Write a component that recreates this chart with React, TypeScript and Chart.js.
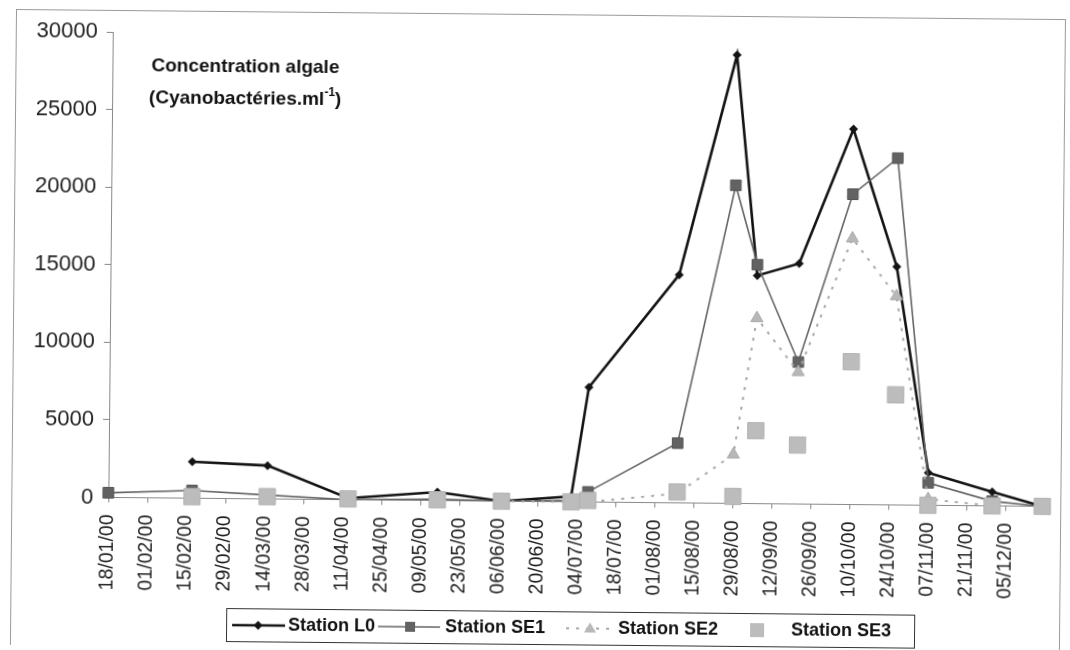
import React, { useEffect, useRef } from 'react';
import { Chart, registerables } from 'chart.js';

Chart.register(...registerables);

// ---- data ----
const tickLabels = [
  '18/01/00', '01/02/00', '15/02/00', '29/02/00', '14/03/00', '28/03/00',
  '11/04/00', '25/04/00', '09/05/00', '23/05/00', '06/06/00', '20/06/00',
  '04/07/00', '18/07/00', '01/08/00', '15/08/00', '29/08/00', '12/09/00',
  '26/09/00', '10/10/00', '24/10/00', '07/11/00', '21/11/00', '05/12/00',
];

const sampleDates = [
  '18/01/00', '17/02/00', '15/03/00', '13/04/00', '15/05/00', '07/06/00',
  '02/07/00', '08/07/00', '09/08/00', '29/08/00', '06/09/00', '21/09/00',
  '10/10/00', '26/10/00', '07/11/00', '30/11/00', '18/12/00',
];

const stationL0 = [null, 2350, 2150, 100, 550, 0, 350, 7400, 14700, 28900, 14700, 15500, 24200, 15350, 2100, 900, 0];
const stationSE1 = [300, 500, 250, 0, 100, 0, 100, 650, 3850, 20500, 15400, 9150, 20000, 22350, 1450, 300, 0];
const stationSE2 = [null, null, null, null, null, 0, 0, 0, 600, 3150, 11950, 8500, 17150, 13450, 400, 0, null];
const stationSE3 = [null, 100, 150, 50, 50, 0, 0, 100, 700, 450, 4700, 3800, 9200, 7100, 0, 0, 0];

const seriesNames = ['Station L0', 'Station SE1', 'Station SE2', 'Station SE3'];
const xStartDate = '18/01/00';
const xEndDate = '18/12/00';
const yMin = 0;
const yMax = 30000;
const yStep = 5000;

const titleLine1 = 'Concentration algale';
const titleLine2 = '(Cyanobactéries.ml';
const titleSup = '-1';
const titleEnd = ')';

// ---- helpers ----
function dayOf(s: string): number {
  const [d, m, y] = s.split('/').map(Number);
  const [d0, m0, y0] = xStartDate.split('/').map(Number);
  return Math.round((Date.UTC(2000 + y, m - 1, d) - Date.UTC(2000 + y0, m0 - 1, d0)) / 86400000);
}

function toPoints(values: (number | null)[]) {
  const pts: { x: number; y: number }[] = [];
  values.forEach((v, i) => {
    if (v !== null) pts.push({ x: dayOf(sampleDates[i]), y: v });
  });
  return pts;
}

const tickDays = tickLabels.map(dayOf);
const FONT = '"Liberation Sans", Arial, Helvetica, sans-serif';

const C_L0 = '#141414';
const C_SE1_LINE = '#666666';
const C_SE1_PT = '#626262';
const C_SE2 = '#a8a8a8';
const C_SE3 = '#bcbcbc';

const decorPlugin = {
  id: 'decor',
  beforeDraw(chart: any) {
    const ctx = chart.ctx;
    ctx.save();
    ctx.fillStyle = '#ffffff';
    ctx.fillRect(0, 0, chart.width, chart.height);
    ctx.strokeStyle = '#9a9a9a';
    ctx.lineWidth = 1;
    ctx.strokeRect(13.5, 14.5, 1049, 700);
    ctx.restore();
  },
  afterDraw(chart: any) {
    const ctx = chart.ctx;
    const ca = chart.chartArea;
    ctx.save();
    // title inside plot
    ctx.fillStyle = '#111';
    ctx.textBaseline = 'middle';
    ctx.textAlign = 'center';
    const mainFont = `bold 19px ${FONT}`;
    ctx.font = mainFont;
    const cx = ca.left + 133;
    ctx.fillText(titleLine1, cx, ca.top + 34);
    const supFont = `bold 12px ${FONT}`;
    const w1 = ctx.measureText(titleLine2).width;
    const wEnd = ctx.measureText(titleEnd).width;
    ctx.font = supFont;
    const wSup = ctx.measureText(titleSup).width;
    const total = w1 + wSup + wEnd;
    let x = cx - total / 2;
    const y2 = ca.top + 66;
    ctx.textAlign = 'left';
    ctx.font = mainFont;
    ctx.fillText(titleLine2, x, y2);
    x += w1;
    ctx.font = supFont;
    ctx.fillText(titleSup, x, y2 - 7);
    x += wSup;
    ctx.font = mainFont;
    ctx.fillText(titleEnd, x, y2);

    // legend box
    const bx = 229, by = 611, bw = 688, bh = 33;
    ctx.fillStyle = '#fff';
    ctx.fillRect(bx, by, bw, bh);
    ctx.strokeStyle = '#333';
    ctx.lineWidth = 1;
    ctx.strokeRect(bx + 0.5, by + 0.5, bw, bh);
    const ly = by + bh / 2 + 0.5;
    ctx.font = `bold 18px ${FONT}`;
    ctx.textBaseline = 'middle';
    ctx.textAlign = 'left';

    // L0
    ctx.strokeStyle = C_L0;
    ctx.lineWidth = 2.5;
    ctx.beginPath(); ctx.moveTo(235, ly); ctx.lineTo(288, ly); ctx.stroke();
    ctx.fillStyle = C_L0;
    ctx.beginPath();
    ctx.moveTo(261, ly - 4.5); ctx.lineTo(265.5, ly); ctx.lineTo(261, ly + 4.5); ctx.lineTo(256.5, ly);
    ctx.closePath(); ctx.fill();
    ctx.fillStyle = '#111';
    ctx.fillText(seriesNames[0], 291, ly);

    // SE1
    ctx.strokeStyle = C_SE1_LINE;
    ctx.lineWidth = 1.5;
    ctx.beginPath(); ctx.moveTo(381, ly); ctx.lineTo(443, ly); ctx.stroke();
    ctx.fillStyle = C_SE1_PT;
    ctx.fillRect(413 - 5, ly - 5, 10, 10);
    ctx.fillStyle = '#111';
    ctx.fillText(seriesNames[1], 448, ly);

    // SE2
    ctx.strokeStyle = C_SE2;
    ctx.lineWidth = 2;
    ctx.setLineDash([3, 7]);
    ctx.beginPath(); ctx.moveTo(569, ly); ctx.lineTo(615, ly); ctx.stroke();
    ctx.setLineDash([]);
    ctx.fillStyle = '#b8b8b8';
    ctx.beginPath();
    ctx.moveTo(593, ly - 6); ctx.lineTo(599, ly + 4); ctx.lineTo(587, ly + 4);
    ctx.closePath(); ctx.fill();
    ctx.fillStyle = '#111';
    ctx.fillText(seriesNames[2], 621, ly);

    // SE3
    ctx.fillStyle = C_SE3;
    ctx.fillRect(760 - 7, ly - 7, 14, 14);
    ctx.fillStyle = '#111';
    ctx.fillText(seriesNames[3], 794, ly);
    ctx.restore();
  },
};

export default function App() {
  const ref = useRef<HTMLCanvasElement | null>(null);

  useEffect(() => {
    if (!ref.current) return;
    const chart = new Chart(ref.current, {
      type: 'line',
      data: {
        datasets: [
          {
            label: seriesNames[0],
            data: toPoints(stationL0),
            borderColor: C_L0,
            backgroundColor: C_L0,
            borderWidth: 2.6,
            pointStyle: 'rectRot',
            pointRadius: 4.5,
            pointBackgroundColor: C_L0,
            pointBorderWidth: 0,
            order: 3,
            clip: false,
          },
          {
            label: seriesNames[1],
            data: toPoints(stationSE1),
            borderColor: C_SE1_LINE,
            backgroundColor: C_SE1_PT,
            borderWidth: 1.6,
            pointStyle: 'rect',
            pointRadius: 7.5,
            pointBackgroundColor: C_SE1_PT,
            pointBorderColor: '#555',
            pointBorderWidth: 1,
            order: 2,
            clip: false,
          },
          {
            label: seriesNames[2],
            data: toPoints(stationSE2),
            borderColor: C_SE2,
            backgroundColor: '#b8b8b8',
            borderWidth: 2,
            borderDash: [3, 7],
            pointStyle: 'triangle',
            pointRadius: 7,
            pointBackgroundColor: '#b8b8b8',
            pointBorderColor: '#aaaaaa',
            pointBorderWidth: 1,
            order: 1,
            clip: false,
          },
          {
            label: seriesNames[3],
            data: toPoints(stationSE3),
            showLine: false,
            borderColor: '#b0b0b0',
            backgroundColor: C_SE3,
            pointStyle: 'rect',
            pointRadius: 11.5,
            pointBackgroundColor: C_SE3,
            pointBorderColor: '#b2b2b2',
            pointBorderWidth: 1,
            order: 0,
            clip: false,
          },
        ],
      },
      options: {
        animation: false,
        responsive: false,
        maintainAspectRatio: false,
        layout: { padding: { left: 0, top: 36, right: 26, bottom: 38.5 } },
        plugins: {
          legend: { display: false },
          tooltip: { enabled: false },
          title: { display: false },
        },
        elements: { line: { tension: 0 } },
        scales: {
          x: {
            type: 'linear',
            min: dayOf(xStartDate),
            max: dayOf(xEndDate),
            afterBuildTicks: (s: any) => {
              s.ticks = tickDays.map((v) => ({ value: v }));
            },
            afterFit: (s: any) => {
              s.height = 110;
            },
            grid: { drawOnChartArea: false, drawTicks: true, tickLength: 5, color: '#888' },
            border: { color: '#8a8a8a', width: 1 },
            ticks: {
              autoSkip: false,
              minRotation: 90,
              maxRotation: 90,
              padding: 12,
              color: '#222',
              font: { family: FONT, size: 19.5 },
              callback: (v: any) => {
                const i = tickDays.indexOf(Number(v));
                return i >= 0 ? tickLabels[i] : '';
              },
            },
          },
          y: {
            min: yMin,
            max: yMax,
            afterFit: (s: any) => {
              s.width = 110;
            },
            grid: { drawOnChartArea: false, drawTicks: true, tickLength: 6, color: '#888' },
            border: { color: '#8a8a8a', width: 1 },
            ticks: {
              stepSize: yStep,
              padding: 9,
              color: '#222',
              font: { family: FONT, size: 22 },
              callback: (v: any) => String(v),
            },
          },
        },
      },
      plugins: [decorPlugin],
    } as any);
    return () => chart.destroy();
  }, []);

  return (
    <div
      style={{
        position: 'fixed',
        left: 0,
        top: 0,
        width: 1070,
        height: 650,
        background: '#fff',
        transform: 'rotate(0.55deg)',
        transformOrigin: '535px 325px',
      }}
    >
      <canvas ref={ref} width={1070} height={650} style={{ width: 1070, height: 650, display: 'block' }} />
    </div>
  );
}
